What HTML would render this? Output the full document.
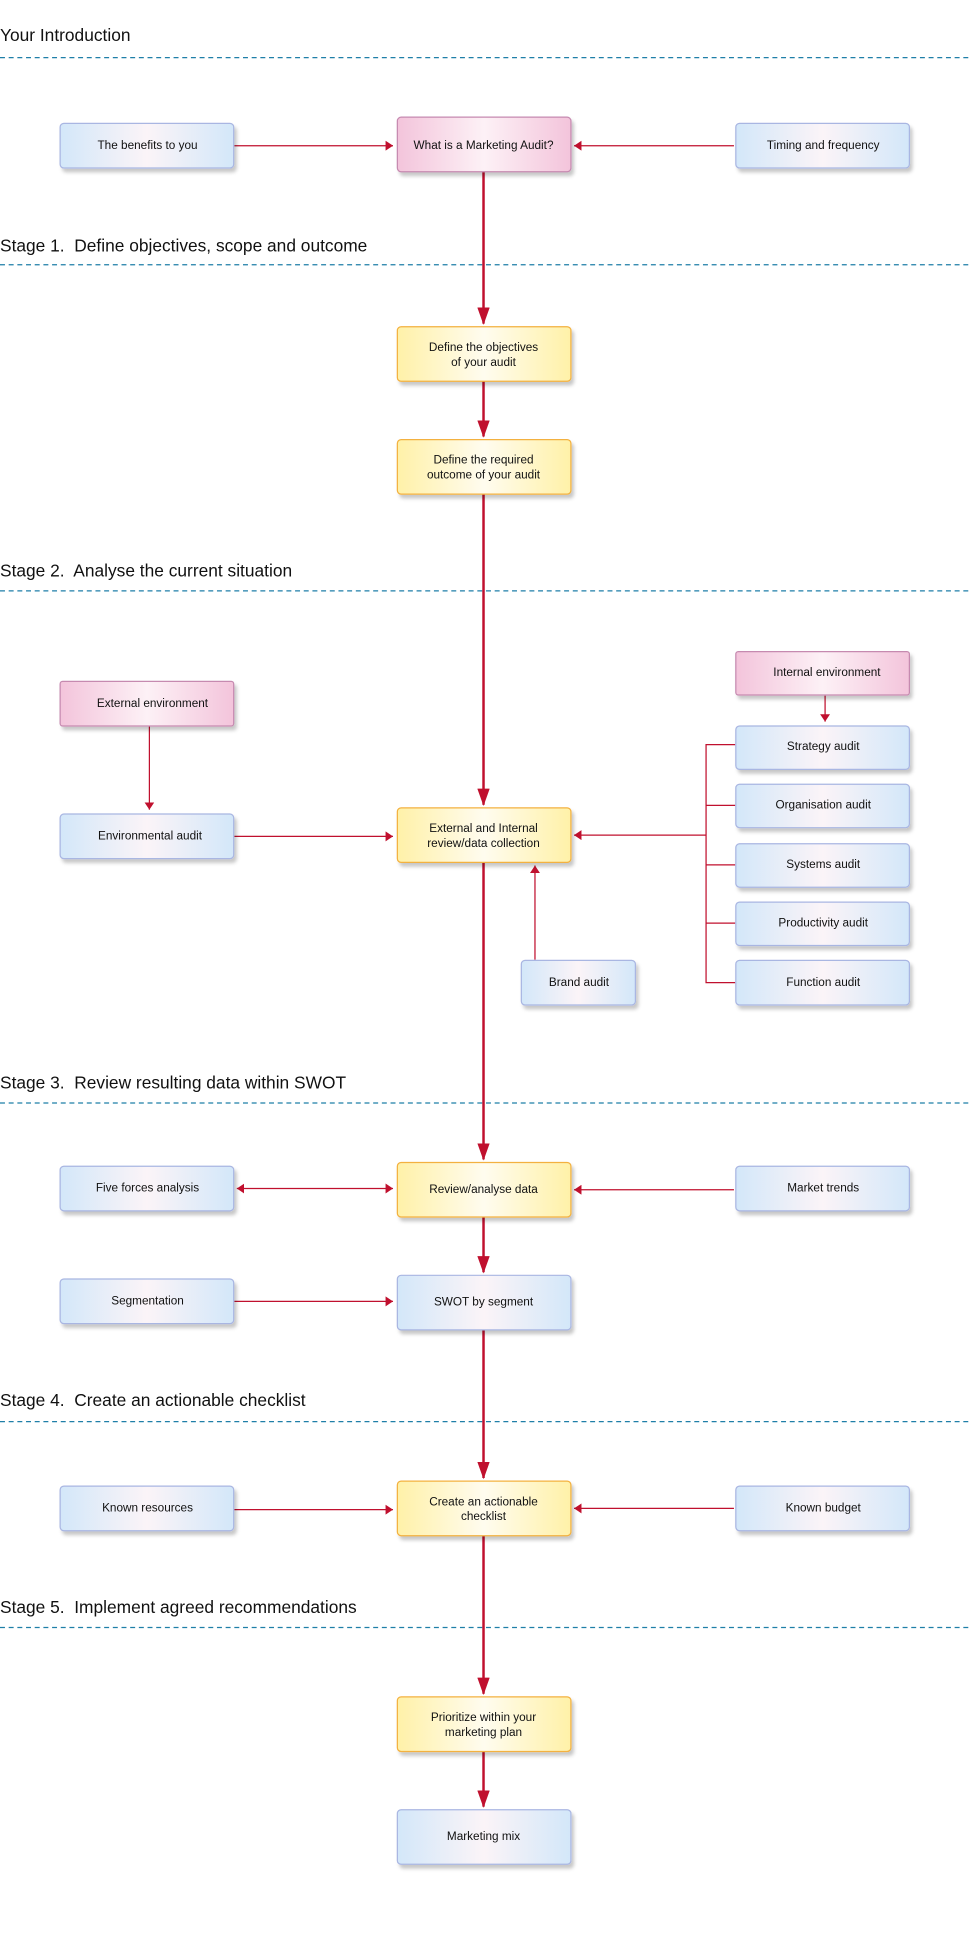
<!DOCTYPE html>
<html><head><meta charset="utf-8"><style>
html,body{margin:0;padding:0;background:#fff;}
svg{display:block;}
text{font-family:"Liberation Sans",sans-serif;}
.hd text{white-space:pre;}
</style></head><body>
<svg width="972" height="1948" viewBox="0 0 784 1571" preserveAspectRatio="none" xmlns="http://www.w3.org/2000/svg">
<defs>
<linearGradient id="gb" x1="0" x2="1" y1="0" y2="0"><stop offset="0" stop-color="#d3e7f9"/><stop offset="0.5" stop-color="#fbf4f8"/><stop offset="1" stop-color="#d3e7f9"/></linearGradient>
<linearGradient id="gp" x1="0" x2="1" y1="0" y2="0"><stop offset="0" stop-color="#f3c4db"/><stop offset="0.5" stop-color="#fdf1f6"/><stop offset="1" stop-color="#f3c4db"/></linearGradient>
<linearGradient id="gy" x1="0" x2="1" y1="0" y2="0"><stop offset="0" stop-color="#fff1a8"/><stop offset="0.5" stop-color="#fffcef"/><stop offset="1" stop-color="#fff1a8"/></linearGradient>
<filter id="sh" x="-10%" y="-10%" width="130%" height="140%"><feDropShadow dx="2" dy="3" stdDeviation="1.5" flood-color="#000" flood-opacity="0.22"/></filter>
<marker id="big" markerWidth="14" markerHeight="10" refX="13" refY="5" orient="auto" markerUnits="userSpaceOnUse" viewBox="0 0 14 10"><path d="M0,0 L14,5 L0,10 z" fill="#c0102e"/></marker>
<marker id="sm" markerWidth="6" markerHeight="8" refX="6" refY="4" orient="auto-start-reverse" markerUnits="userSpaceOnUse" viewBox="0 0 6 8"><path d="M0,0 L6,4 L0,8 z" fill="#c0102e"/></marker>
</defs>
<g class="hd" font-size="14" fill="#111" xml:space="preserve">
<text x="0" y="33">Your Introduction</text>
<text x="0" y="203">Stage 1.  Define objectives, scope and outcome</text>
<text x="0" y="465">Stage 2.  Analyse the current situation</text>
<text x="0" y="878">Stage 3.  Review resulting data within SWOT</text>
<text x="0" y="1134">Stage 4.  Create an actionable checklist</text>
<text x="0" y="1301">Stage 5.  Implement agreed recommendations</text>
</g>
<g stroke="#1f7fa8" stroke-width="1" stroke-dasharray="4,3">
<line x1="0" x2="784" y1="46.5" y2="46.5"/><line x1="0" x2="784" y1="213.5" y2="213.5"/><line x1="0" x2="784" y1="476.5" y2="476.5"/><line x1="0" x2="784" y1="889.5" y2="889.5"/><line x1="0" x2="784" y1="1146.5" y2="1146.5"/><line x1="0" x2="784" y1="1312.5" y2="1312.5"/>
</g>
<g stroke="#c0102e" stroke-width="2" fill="none" marker-end="url(#big)">
<line x1="390" y1="138" x2="390" y2="261"/>
<line x1="390" y1="307" x2="390" y2="352"/>
<line x1="390" y1="398" x2="390" y2="649"/>
<line x1="390" y1="695" x2="390" y2="935"/>
<line x1="390" y1="981" x2="390" y2="1026"/>
<line x1="390" y1="1072" x2="390" y2="1192"/>
<line x1="390" y1="1238" x2="390" y2="1366"/>
<line x1="390" y1="1412" x2="390" y2="1457"/>
</g>
<g stroke="#c0102e" stroke-width="1" fill="none">
<line x1="189" y1="117.5" x2="317" y2="117.5" marker-end="url(#sm)"/>
<line x1="592" y1="117.5" x2="463" y2="117.5" marker-end="url(#sm)"/>
<line x1="120.5" y1="585" x2="120.5" y2="653" marker-end="url(#sm)"/>
<line x1="189" y1="674.5" x2="317" y2="674.5" marker-end="url(#sm)"/>
<line x1="665.5" y1="561" x2="665.5" y2="582" marker-end="url(#sm)"/>
<line x1="569.5" y1="673.5" x2="463" y2="673.5" marker-end="url(#sm)"/>
<path d="M593,600.5 H569.5 V792.5 H593 M569.5,649.5 H593 M569.5,697.5 H593 M569.5,744.5 H593"/>
<line x1="431.5" y1="774" x2="431.5" y2="698" marker-end="url(#sm)"/>
<line x1="191" y1="958.5" x2="317" y2="958.5" marker-end="url(#sm)" marker-start="url(#sm)"/>
<line x1="592" y1="959.5" x2="463" y2="959.5" marker-end="url(#sm)"/>
<line x1="189" y1="1049.5" x2="317" y2="1049.5" marker-end="url(#sm)"/>
<line x1="189" y1="1217.5" x2="317" y2="1217.5" marker-end="url(#sm)"/>
<line x1="592" y1="1216.5" x2="463" y2="1216.5" marker-end="url(#sm)"/>
</g>
<g filter="url(#sh)" stroke-width="1">
<rect x="48.5" y="99.5" width="140" height="36" rx="3" fill="url(#gb)" stroke="#a9b6e2"/>
<rect x="320.5" y="94.5" width="140" height="44" rx="3" fill="url(#gp)" stroke="#c68ab0"/>
<rect x="593.5" y="99.5" width="140" height="36" rx="3" fill="url(#gb)" stroke="#a9b6e2"/>
<rect x="320.5" y="263.5" width="140" height="44" rx="3" fill="url(#gy)" stroke="#f3b13f"/>
<rect x="320.5" y="354.5" width="140" height="44" rx="3" fill="url(#gy)" stroke="#f3b13f"/>
<rect x="48.5" y="549.5" width="140" height="36" rx="2" fill="url(#gp)" stroke="#c68ab0"/>
<rect x="593.5" y="525.5" width="140" height="35" rx="2" fill="url(#gp)" stroke="#c68ab0"/>
<rect x="48.5" y="656.5" width="140" height="36" rx="3" fill="url(#gb)" stroke="#a9b6e2"/>
<rect x="320.5" y="651.5" width="140" height="44" rx="3" fill="url(#gy)" stroke="#f3b13f"/>
<rect x="593.5" y="585.5" width="140" height="35" rx="3" fill="url(#gb)" stroke="#a9b6e2"/>
<rect x="593.5" y="632.5" width="140" height="35" rx="3" fill="url(#gb)" stroke="#a9b6e2"/>
<rect x="593.5" y="680.5" width="140" height="35" rx="3" fill="url(#gb)" stroke="#a9b6e2"/>
<rect x="593.5" y="727.5" width="140" height="35" rx="3" fill="url(#gb)" stroke="#a9b6e2"/>
<rect x="593.5" y="774.5" width="140" height="36" rx="3" fill="url(#gb)" stroke="#a9b6e2"/>
<rect x="420.5" y="774.5" width="92" height="36" rx="3" fill="url(#gb)" stroke="#a9b6e2"/>
<rect x="48.5" y="940.5" width="140" height="36" rx="3" fill="url(#gb)" stroke="#a9b6e2"/>
<rect x="320.5" y="937.5" width="140" height="44" rx="3" fill="url(#gy)" stroke="#f3b13f"/>
<rect x="593.5" y="940.5" width="140" height="36" rx="3" fill="url(#gb)" stroke="#a9b6e2"/>
<rect x="48.5" y="1031.5" width="140" height="36" rx="3" fill="url(#gb)" stroke="#a9b6e2"/>
<rect x="320.5" y="1028.5" width="140" height="44" rx="3" fill="url(#gb)" stroke="#a9b6e2"/>
<rect x="48.5" y="1198.5" width="140" height="36" rx="3" fill="url(#gb)" stroke="#a9b6e2"/>
<rect x="320.5" y="1194.5" width="140" height="44" rx="3" fill="url(#gy)" stroke="#f3b13f"/>
<rect x="593.5" y="1198.5" width="140" height="36" rx="3" fill="url(#gb)" stroke="#a9b6e2"/>
<rect x="320.5" y="1368.5" width="140" height="44" rx="3" fill="url(#gy)" stroke="#f3b13f"/>
<rect x="320.5" y="1459.5" width="140" height="44" rx="3" fill="url(#gb)" stroke="#a9b6e2"/>
</g>
<g font-size="9.5" fill="#111" text-anchor="middle">
<text x="119" y="120">The benefits to you</text>
<text x="390" y="120">What is a Marketing Audit?</text>
<text x="664" y="120">Timing and frequency</text>
<text x="390" y="283">Define the objectives</text><text x="390" y="295">of your audit</text>
<text x="390" y="374">Define the required</text><text x="390" y="386">outcome of your audit</text>
<text x="123" y="570">External environment</text>
<text x="667" y="545">Internal environment</text>
<text x="121" y="677">Environmental audit</text>
<text x="390" y="671">External and Internal</text><text x="390" y="683">review/data collection</text>
<text x="664" y="605">Strategy audit</text>
<text x="664" y="652">Organisation audit</text>
<text x="664" y="700">Systems audit</text>
<text x="664" y="747">Productivity audit</text>
<text x="664" y="795">Function audit</text>
<text x="467" y="795">Brand audit</text>
<text x="119" y="961">Five forces analysis</text>
<text x="390" y="962">Review/analyse data</text>
<text x="664" y="961">Market trends</text>
<text x="119" y="1052">Segmentation</text>
<text x="390" y="1053">SWOT by segment</text>
<text x="119" y="1219">Known resources</text>
<text x="390" y="1214">Create an actionable</text><text x="390" y="1226">checklist</text>
<text x="664" y="1219">Known budget</text>
<text x="390" y="1388">Prioritize within your</text><text x="390" y="1400">marketing plan</text>
<text x="390" y="1484">Marketing mix</text>
</g>
</svg>
</body></html>
